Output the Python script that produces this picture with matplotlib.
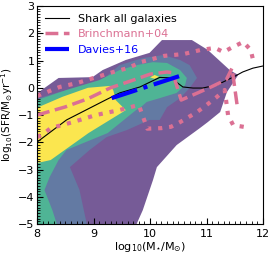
import numpy as np
import matplotlib
matplotlib.use('Agg')
import matplotlib.pyplot as plt
from matplotlib.ticker import MultipleLocator

# filled contour levels of the Shark galaxy distribution (outermost first)
purple_x = [8.0, 8.38, 8.98, 9.16, 9.57, 9.99, 10.21, 10.74, 11.02, 11.41, 11.56, 11.36, 11.24,
            11.02, 10.88, 10.47, 10.12, 10.05, 9.87, 9.76, 8.0]
purple_y = [-0.2, 0.36, 0.39, 0.65, 1.02, 1.28, 1.75, 1.75, 1.39, 0.65, 0.47, -0.16, -0.89,
            -1.26, -1.48, -2.10, -2.91, -3.39, -4.49, -5.0, -5.0]

blue_x = [8.0, 8.4, 8.9, 9.16, 9.46, 9.87, 10.23, 10.53, 10.7, 10.83, 10.7, 10.53, 10.3, 10.17,
          9.99, 9.59, 9.23, 8.93, 8.58, 8.75, 8.88, 8.0]
blue_y = [-0.4, -0.15, 0.08, 0.3, 0.83, 1.09, 1.2, 1.02, 0.83, 0.36, -0.01, -0.38, -0.71, -1.18,
          -1.18, -1.55, -1.81, -2.28, -2.91, -3.75, -5.0, -5.0]

teal_x = [8.0, 8.52, 9.1, 9.46, 9.76, 10.05, 10.3, 10.53, 10.65, 10.62, 10.47, 10.17, 9.94, 9.82,
          9.75, 9.25, 8.52, 8.38, 8.22, 8.13, 8.27, 8.35, 8.0]
teal_y = [-0.45, -0.08, 0.28, 0.65, 0.83, 0.94, 0.91, 0.65, 0.36, 0.1, -0.19, -0.38, -0.52, -0.74,
          -0.82, -1.66, -2.28, -2.65, -3.28, -3.75, -4.49, -5.0, -5.0]

yellow_x = [8.0, 8.45, 8.9, 9.3, 9.35, 9.39, 9.57, 8.91, 8.24, 8.0]
yellow_y = [-0.73, -0.33, 0.0, 0.07, -0.1, -0.45, -0.82, -1.66, -2.65, -2.76]
yellow2_x = [10.0, 10.08, 10.16, 10.08]
yellow2_y = [0.38, 0.47, 0.4, 0.33]

# Shark median
shark_x = [8.0, 8.52, 9.21, 9.46, 9.82, 10.17, 10.38, 10.49, 10.58, 10.76, 10.93, 11.18, 11.47,
           11.64, 11.82, 12.0]
shark_y = [-1.99, -1.18, -0.45, -0.19, 0.03, 0.38, 0.36, 0.17, 0.03, -0.01, -0.01, 0.10, 0.39,
           0.58, 0.72, 0.80]

# Brinchmann+04 median and percentiles
b04_x = [8.0, 8.5, 8.9, 9.3, 9.7, 10.0, 10.3, 10.4, 10.55, 10.85, 11.1, 11.35, 11.45, 11.54]
b04_y = [-1.0, -0.7, -0.4, 0.0, 0.28, 0.5, 0.58, 0.55, -0.45, -0.18, 0.05, 0.3, 0.72, -0.63]
b04_hi_x = [8.0, 8.4, 8.7, 9.0, 9.35, 9.6, 9.85, 10.25, 10.6, 10.9, 11.15, 11.3, 11.45, 11.65,
            11.78, 11.82]
b04_hi_y = [-0.3, 0.03, 0.17, 0.36, 0.58, 0.72, 0.95, 1.17, 1.24, 1.39, 1.46, 1.31, 1.48, 1.68,
            1.39, 1.05]
b04_lo_x = [8.0, 8.13, 8.24, 8.63, 9.04, 9.45, 9.8, 9.95, 10.2, 10.37, 10.53, 10.83, 11.0, 11.18,
            11.32, 11.38, 11.47, 11.68]
b04_lo_y = [-1.81, -1.66, -1.48, -1.26, -1.0, -0.82, -0.63, -1.5, -1.48, -1.43, -1.26, -0.89,
            -0.63, -0.34, -0.08, -1.0, -1.37, -1.44]

# Davies+16
d16_x = [9.32, 10.58]
d16_y = [-0.38, 0.47]

fig = plt.figure(figsize=(2.69, 2.60), dpi=100)
ax = fig.add_axes([0.138, 0.138, 0.840, 0.839])

ax.fill(purple_x, purple_y, color='#765b97', lw=0)
ax.fill(blue_x, blue_y, color='#637aa3', lw=0)
ax.fill(teal_x, teal_y, color='#4fb495', lw=0)
ax.fill(yellow_x, yellow_y, color='#fbe64f', lw=0)
ax.fill(yellow2_x, yellow2_y, color='#fbe64f', lw=0)

pink = 'PaleVioletRed'
ax.plot(shark_x, shark_y, 'k-', lw=0.8, label='Shark all galaxies')
ax.plot(b04_x, b04_y, '--', color=pink, lw=2.5, label='Brinchmann+04')
ax.plot(b04_hi_x, b04_hi_y, ':', color=pink, lw=3)
ax.plot(b04_lo_x, b04_lo_y, ':', color=pink, lw=3)
ax.plot(d16_x, d16_y, '-.', color='blue', lw=3, label='Davies+16')

ax.set_xlim(8, 12)
ax.set_ylim(-5, 3)
ax.xaxis.set_major_locator(MultipleLocator(1))
ax.xaxis.set_minor_locator(MultipleLocator(0.1))
ax.yaxis.set_major_locator(MultipleLocator(1))
ax.yaxis.set_minor_locator(MultipleLocator(0.1))
ax.tick_params(which='both', direction='in', labelsize=8)
ax.tick_params(axis='y', pad=2)
ax.tick_params(which='major', length=4)
ax.tick_params(which='minor', length=2)
ax.set_xlabel(r'$\rm log_{10}(M_{\star}/M_{\odot})$', fontsize=8, labelpad=1)
ax.set_ylabel(r'$\rm log_{10}(SFR/M_{\odot}yr^{-1})$', fontsize=7.5)
ax.yaxis.set_label_coords(-0.098, 0.5)

leg = ax.legend(loc='upper left', frameon=False, fontsize=8, labelcolor='linecolor',
                handlelength=2.2, borderaxespad=0.3)

fig.savefig('out.png', dpi=100)
